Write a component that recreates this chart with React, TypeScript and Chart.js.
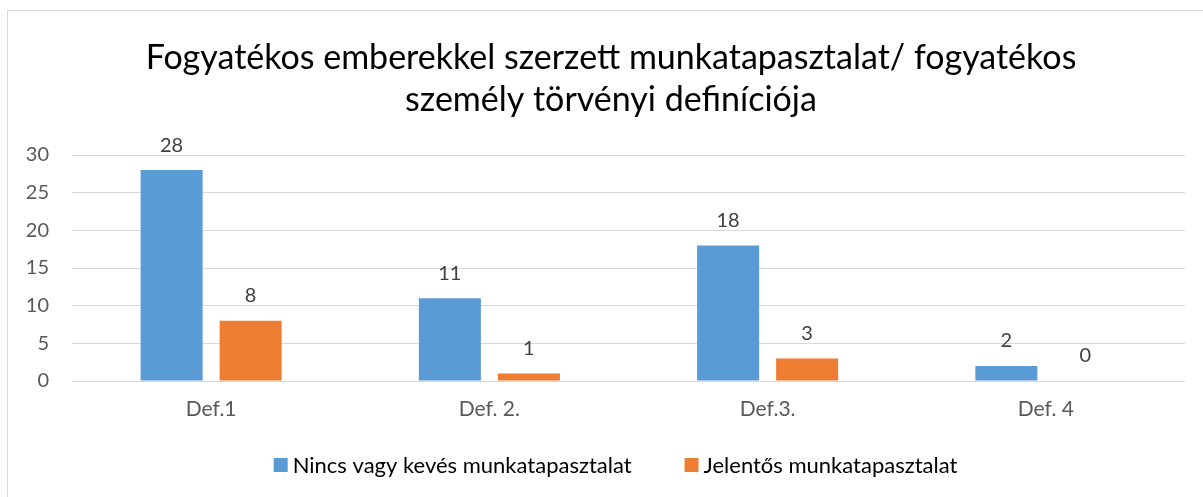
import React, { useEffect, useRef } from "react";
import { Chart, registerables } from "chart.js";

Chart.register(...registerables);

const categories = ["Def.1", "Def. 2.", "Def.3.", "Def. 4"];
const noneOrLittle = [28, 11, 18, 2];
const significant = [8, 1, 3, 0];
const seriesLabels = ["Nincs vagy kevés munkatapasztalat", "Jelentős munkatapasztalat"];
const seriesColors = ["#5b9bd5", "#ed7d31"];
const titleLines = [
  "Fogyatékos emberekkel szerzett munkatapasztalat/ fogyatékos",
  "személy törvényi definíciója",
];
const yTicks = [0, 5, 10, 15, 20, 25, 30];

const FONT = "Lato, 'Open Sans', sans-serif";

const titlePlugin = {
  id: "customTitle",
  afterDraw(chart: any) {
    const ctx = chart.ctx;
    ctx.save();
    ctx.font = `34px ${FONT}`;
    ctx.fillStyle = "#000000";
    ctx.textAlign = "center";
    ctx.textBaseline = "middle";
    titleLines.forEach((line, i) => {
      ctx.fillText(line, 611, 58 + i * 42);
    });
    ctx.restore();
  },
};

const dataLabelPlugin = {
  id: "dataLabels",
  afterDatasetsDraw(chart: any) {
    const ctx = chart.ctx;
    ctx.save();
    ctx.font = `20px ${FONT}`;
    ctx.fillStyle = "#404040";
    ctx.textAlign = "center";
    ctx.textBaseline = "middle";
    chart.data.datasets.forEach((ds: any, di: number) => {
      const meta = chart.getDatasetMeta(di);
      meta.data.forEach((el: any, i: number) => {
        ctx.fillText(String(ds.data[i]), el.x, el.y - 25);
      });
    });
    ctx.restore();
  },
};

const legendPlugin = {
  id: "customLegend",
  afterDraw(chart: any) {
    const ctx = chart.ctx;
    ctx.save();
    ctx.font = `22px ${FONT}`;
    ctx.textBaseline = "middle";
    ctx.textAlign = "left";
    const box = 14;
    const gap = 5;
    const between = 53;
    const ds = chart.data.datasets;
    const widths = ds.map((d: any) => ctx.measureText(d.label).width);
    let total = 0;
    widths.forEach((w: number, i: number) => {
      total += box + gap + w + (i < widths.length - 1 ? between : 0);
    });
    let x = 615.5 - total / 2;
    const cy = 465;
    ds.forEach((d: any, i: number) => {
      ctx.fillStyle = d.backgroundColor;
      ctx.fillRect(x, cy - box / 2, box, box);
      ctx.fillStyle = "#000000";
      ctx.fillText(d.label, x + box + gap, cy + 1);
      x += box + gap + widths[i] + between;
    });
    ctx.restore();
  },
};

export default function App() {
  const ref = useRef<HTMLCanvasElement | null>(null);
  useEffect(() => {
    document.body.style.overflow = "hidden";
    if (!ref.current) return;
    const chart = new Chart(ref.current, {
      type: "bar",
      data: {
        labels: categories,
        datasets: [
          {
            label: seriesLabels[0],
            data: noneOrLittle,
            backgroundColor: seriesColors[0],
            categoryPercentage: 0.568,
            barPercentage: 0.785,
          },
          {
            label: seriesLabels[1],
            data: significant,
            backgroundColor: seriesColors[1],
            categoryPercentage: 0.568,
            barPercentage: 0.785,
          },
        ],
      },
      options: {
        responsive: false,
        animation: false,
        layout: { padding: { left: 12, right: 18, top: 155, bottom: 51 } },
        plugins: {
          legend: { display: false },
          title: { display: false },
          tooltip: { enabled: false },
        },
        scales: {
          y: {
            min: 0,
            max: 30,
            afterBuildTicks: (scale: any) => {
              scale.ticks = yTicks.map((v) => ({ value: v }));
            },
            afterFit: (scale: any) => {
              scale.width = 60;
            },
            grid: { color: "#d9d9d9", drawTicks: false, lineWidth: 1 },
            border: { display: false },
            ticks: {
              padding: 23,
              color: "#595959",
              font: { family: FONT, size: 20 },
            },
          },
          x: {
            afterFit: (scale: any) => {
              scale.height = 65;
            },
            grid: { display: false, drawTicks: false },
            border: { display: false },
            ticks: {
              padding: 16,
              color: "#595959",
              font: { family: FONT, size: 21 },
            },
          },
        },
      },
      plugins: [titlePlugin, dataLabelPlugin, legendPlugin],
    });
    return () => chart.destroy();
  }, []);
  return (
    <>
      <div
        style={{
          position: "fixed",
          left: 7,
          top: 10,
          right: -20,
          bottom: -20,
          border: "1px solid #d9d9d9",
          background: "#ffffff",
        }}
      />
      <canvas
        ref={ref}
        width={1203}
        height={497}
        style={{ position: "fixed", left: 0, top: 0, width: 1203, height: 497 }}
      />
    </>
  );
}
